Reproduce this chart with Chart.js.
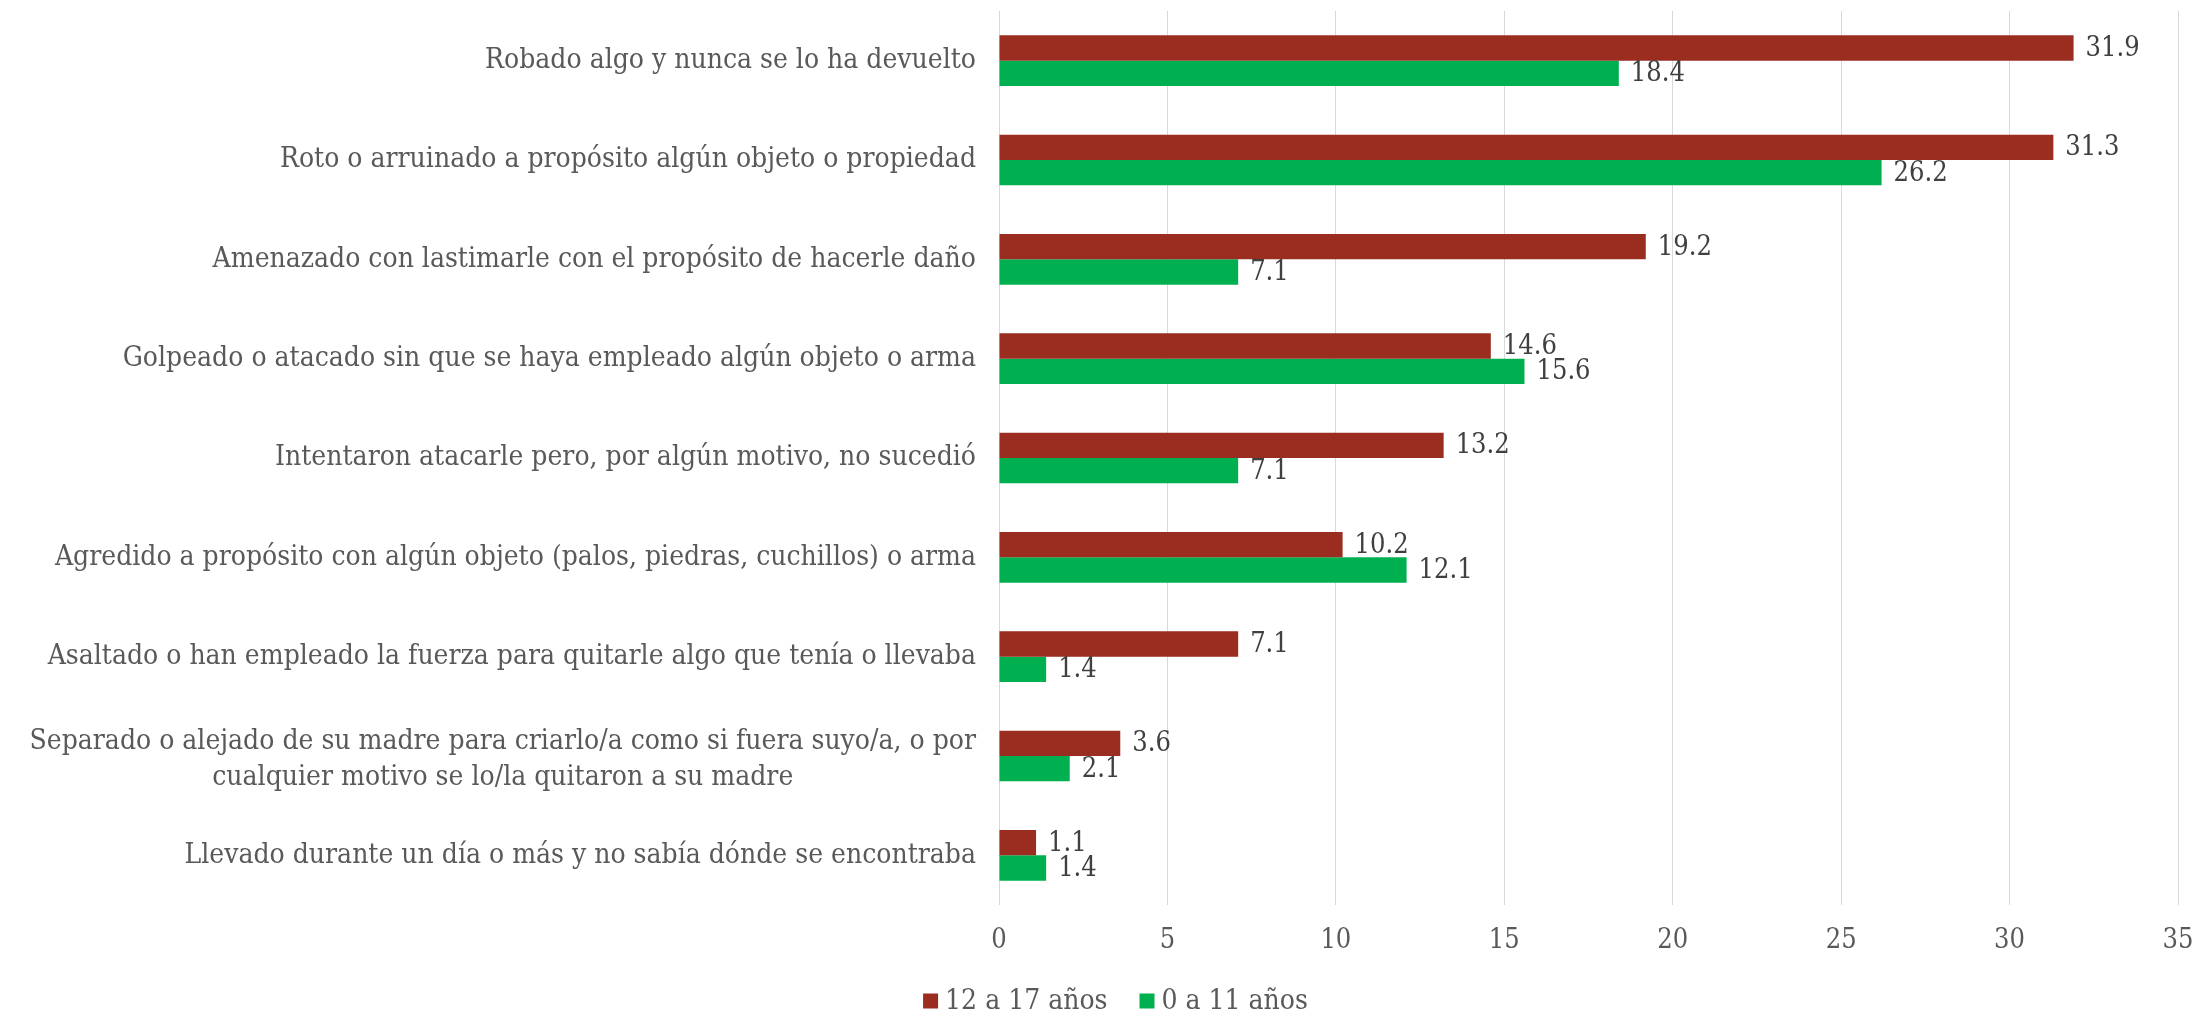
<!DOCTYPE html>
<html>
<head>
<meta charset="utf-8">
<script src="https://cdn.jsdelivr.net/npm/chart.js@4.4.1/dist/chart.umd.min.js"></script>
<style>
  html, body { margin: 0; padding: 0; background: #fff; }
  #wrap { width: 2201px; height: 1014px; position: relative; }
</style>
</head>
<body>
<div id="wrap"><canvas id="chart"></canvas></div>
<script>
const categories = [
  'Robado algo y nunca se lo ha devuelto',
  'Roto o arruinado a propósito algún objeto o propiedad',
  'Amenazado con lastimarle con el propósito de hacerle daño',
  'Golpeado o atacado sin que se haya empleado algún objeto o arma',
  'Intentaron atacarle pero, por algún motivo, no sucedió',
  'Agredido a propósito con algún objeto (palos, piedras, cuchillos) o arma',
  'Asaltado o han empleado la fuerza para quitarle algo que tenía o llevaba',
  ['Separado o alejado de su madre para criarlo/a como si fuera suyo/a, o por', 'cualquier motivo se lo/la quitaron a su madre'],
  'Llevado durante un día o más y no sabía dónde se encontraba',
];
const teens = [31.9, 31.3, 19.2, 14.6, 13.2, 10.2, 7.1, 3.6, 1.1];
const kids = [18.4, 26.2, 7.1, 15.6, 7.1, 12.1, 1.4, 2.1, 1.4];
const seriesNames = ['12 a 17 años', '0 a 11 años'];
const xTicks = [0, 5, 10, 15, 20, 25, 30, 35];

const FONT = '"DejaVu Serif Condensed", "DejaVu Serif", serif';

const labelPlugin = {
  id: 'labels',
  afterDatasetsDraw(chart) {
    const { ctx, chartArea } = chart;
    const yScale = chart.scales.y;
    ctx.save();

    // category labels, right aligned; wrapped one centred under its first line
    ctx.fillStyle = '#595959';
    ctx.font = '28px ' + FONT;
    ctx.textBaseline = 'middle';
    const rightX = chartArea.left - 23;
    categories.forEach((lab, i) => {
      const y = yScale.getPixelForTick(i);
      if (Array.isArray(lab)) {
        const w = ctx.measureText(lab[0]).width;
        const cx = rightX - w / 2;
        const lh = 36;
        ctx.textAlign = 'center';
        lab.forEach((line, j) => {
          ctx.fillText(line, cx, y + 4 + (j - (lab.length - 1) / 2) * lh);
        });
      } else {
        ctx.textAlign = 'right';
        ctx.fillText(lab, rightX, y);
      }
    });

    // value labels
    ctx.fillStyle = '#404040';
    ctx.font = '27px ' + FONT;
    ctx.textAlign = 'left';
    chart.data.datasets.forEach((ds, di) => {
      const meta = chart.getDatasetMeta(di);
      meta.data.forEach((bar, i) => {
        ctx.fillText(ds.data[i].toFixed(1), bar.x + 12, bar.y + 1);
      });
    });
    ctx.restore();
  }
};

// legend drawn by hand: square, small gap, text
const legendPlugin = {
  id: 'bottomLegend',
  afterDraw(chart) {
    const { ctx } = chart;
    ctx.save();
    ctx.font = '28px ' + FONT;
    ctx.textBaseline = 'middle';
    ctx.textAlign = 'left';
    const box = 15, gapText = 7, gapItem = 32;
    const items = chart.data.datasets.map(ds => ({
      text: ds.label, color: ds.backgroundColor, w: ctx.measureText(ds.label).width,
    }));
    const total = items.reduce((s, it) => s + box + gapText + it.w, 0) + gapItem * (items.length - 1);
    let x = chart.width / 2 + 15 - total / 2;
    const y = 1001;
    items.forEach(it => {
      ctx.fillStyle = it.color;
      ctx.fillRect(x, y - box / 2, box, box);
      x += box + gapText;
      ctx.fillStyle = '#595959';
      ctx.fillText(it.text, x, y + 1);
      x += it.w + gapItem;
    });
    ctx.restore();
  }
};

new Chart(document.getElementById('chart'), {
  type: 'bar',
  data: {
    labels: categories,
    datasets: [
      {
        label: seriesNames[0],
        data: teens,
        backgroundColor: '#9A2D20',
        borderWidth: 0,
        categoryPercentage: 0.51,
        barPercentage: 1.0,
      },
      {
        label: seriesNames[1],
        data: kids,
        backgroundColor: '#00B050',
        borderWidth: 0,
        categoryPercentage: 0.51,
        barPercentage: 1.0,
      },
    ],
  },
  options: {
    indexAxis: 'y',
    responsive: true,
    maintainAspectRatio: false,
    animation: false,
    layout: { padding: { left: 0, right: 23, top: 11, bottom: 62 } },
    scales: {
      x: {
        min: 0,
        max: 35,
        afterBuildTicks: (s) => { s.ticks = xTicks.map(v => ({ value: v })); },
        afterFit: (s) => { s.height = 47; s.paddingLeft = 0; s.paddingRight = 0; },
        ticks: { color: '#595959', font: { family: FONT, size: 27 }, padding: 20 },
        grid: { color: '#D9D9D9', lineWidth: 1, drawTicks: false },
        border: { display: false },
      },
      y: {
        ticks: { display: false },
        grid: { display: false },
        border: { display: false },
        afterFit: (s) => { s.width = 999; },
      },
    },
    plugins: {
      legend: { display: false },
      tooltip: { enabled: false },
    },
  },
  plugins: [labelPlugin, legendPlugin],
});
</script>
</body>
</html>
